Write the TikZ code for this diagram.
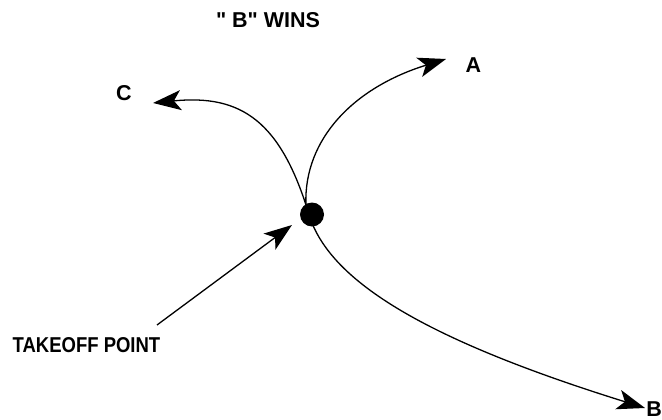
\documentclass[tikz,border=0pt]{standalone}
\usepackage{fontspec}
\setmainfont{Liberation Sans}
\usetikzlibrary{arrows.meta}
\begin{document}
\begin{tikzpicture}[x=1pt,y=-1pt,
  lbl/.style={font=\fontsize{21.5}{24}\selectfont\bfseries, inner sep=0pt},
  conn/.style={line width=1.3pt},
  >={Stealth[length=28pt,width=20pt,inset=7pt]}]
\useasboundingbox (0,0) rectangle (662,420);
% labels
\node[lbl] (title) at (268,20) {\textquotedbl\ B\textquotedbl\ WINS};
\node[lbl] (A) at (473.5,65.5) {A};
\node[lbl] (C) at (124,93.5) {C};
\node[lbl, anchor=east] (B) at (662,409) {B};
\node[lbl] (takeoff) at (86.5,345) {\scalebox{0.86}[1]{TAKEOFF POINT}};
% takeoff point
\node[circle, fill, inner sep=0pt, minimum size=24pt] (dot) at (312,214.5) {};
% arrow ends
\coordinate (ctip) at (153,103);
\coordinate (atip) at (446,59);
\coordinate (btip) at (645,408);
\coordinate (ttip) at (292,225);
\coordinate (ttail) at (157,325);
% connectors
\draw[conn, <->] (ctip) .. controls (242,94) and (281,122) .. ([xshift=-3pt]dot.center)
  .. controls (329.8,283.1) and (430.9,341.3) .. (btip);
\draw[conn, ->] (dot.120) .. controls (304,139) and (353.7,87.6) .. (atip);
\draw[conn, ->] (ttail) -- (ttip);
\end{tikzpicture}
\end{document}
